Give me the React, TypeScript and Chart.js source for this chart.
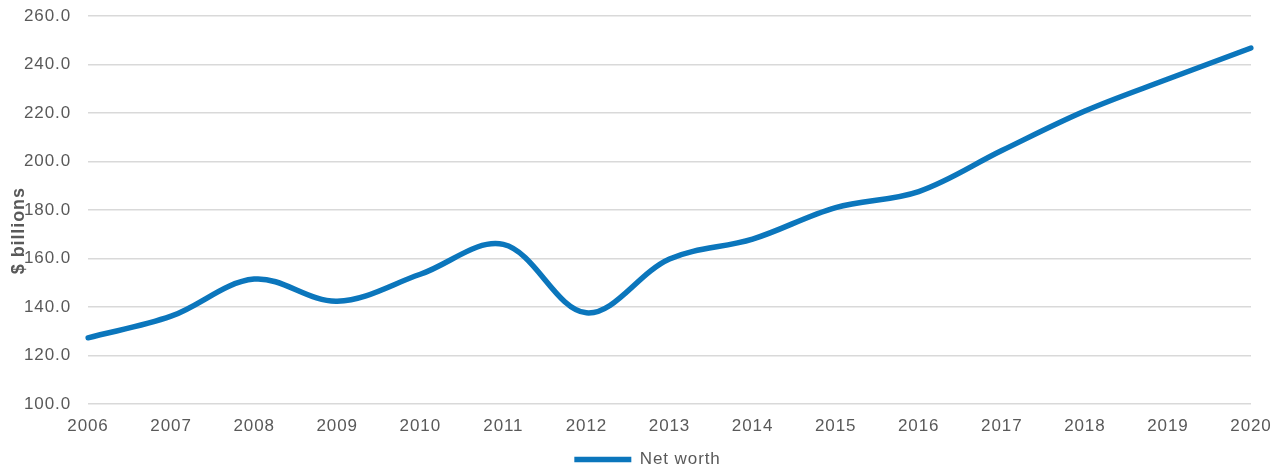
import React, { useEffect, useRef } from "react";
import { Chart, registerables } from "chart.js";

Chart.register(...registerables);

const years = ["2006", "2007", "2008", "2009", "2010", "2011", "2012", "2013", "2014", "2015", "2016", "2017", "2018", "2019", "2020"];
const netWorth = [127.3, 136.2, 151.5, 142.4, 153.5, 165.8, 137.6, 159.8, 168.0, 181.0, 187.6, 204.5, 220.8, 234.0, 246.8];
const seriesName = "Net worth";
const yTitle = "$ billions";

const TEXT = "#595959";
const LINE = "#0b76bc";
const FONT = "'Liberation Sans', Arial, sans-serif";
const SPACING = "0.9px";

const spacingPlugin = {
  id: "letterSpacing",
  beforeUpdate(chart: any) {
    (chart.ctx as any).letterSpacing = SPACING;
  },
  beforeDraw(chart: any) {
    (chart.ctx as any).letterSpacing = SPACING;
  },
};

export default function App() {
  const ref = useRef<HTMLCanvasElement | null>(null);
  useEffect(() => {
    if (!ref.current) return;
    const chart = new Chart(ref.current, {
      type: "line",
      data: {
        labels: years,
        datasets: [
          {
            label: seriesName,
            data: netWorth,
            borderColor: LINE,
            backgroundColor: LINE,
            borderWidth: 5.5,
            tension: 0.35,
            pointRadius: 0,
            borderCapStyle: "round",
            fill: false,
          },
        ],
      },
      plugins: [spacingPlugin],
      options: {
        animation: false,
        responsive: true,
        maintainAspectRatio: false,
        layout: { padding: { left: 10, right: 0, top: 0, bottom: -6 } },
        plugins: {
          tooltip: { enabled: false },
          legend: {
            position: "bottom",
            labels: {
              usePointStyle: true,
              pointStyle: "line",
              pointStyleWidth: 57,
              boxHeight: 5,
              padding: 6,
              color: TEXT,
              font: { family: FONT, size: 17 },
            },
          },
        },
        scales: {
          x: {
            type: "category",
            offset: false,
            grid: { display: false, drawTicks: false },
            border: { display: false },
            ticks: {
              color: TEXT,
              font: { family: FONT, size: 17 },
              padding: 12,
              maxRotation: 0,
              autoSkip: false,
            },
            afterFit(scale: any) {
              scale.height = 41;
              scale.paddingRight = 34;
            },
          },
          y: {
            min: 100,
            max: 260,
            grid: { color: "#d9d9d9", lineWidth: 1.5, drawTicks: false },
            border: { display: false },
            ticks: {
              stepSize: 20,
              color: TEXT,
              font: { family: FONT, size: 17 },
              padding: 17,
              callback: (v: any) => Number(v).toFixed(1),
            },
            title: {
              display: true,
              text: yTitle + "       ",
              color: TEXT,
              font: { family: FONT, size: 18, weight: "bold" },
              padding: { top: -2, bottom: 0 },
            },
            afterFit(scale: any) {
              scale.width = 78;
              scale.paddingTop = 16;
            },
          },
        },
      },
    });
    return () => chart.destroy();
  }, []);
  return (
    <div style={{ position: "fixed", left: 0, top: 0, width: 1285, height: 472 }}>
      <canvas ref={ref} />
    </div>
  );
}
